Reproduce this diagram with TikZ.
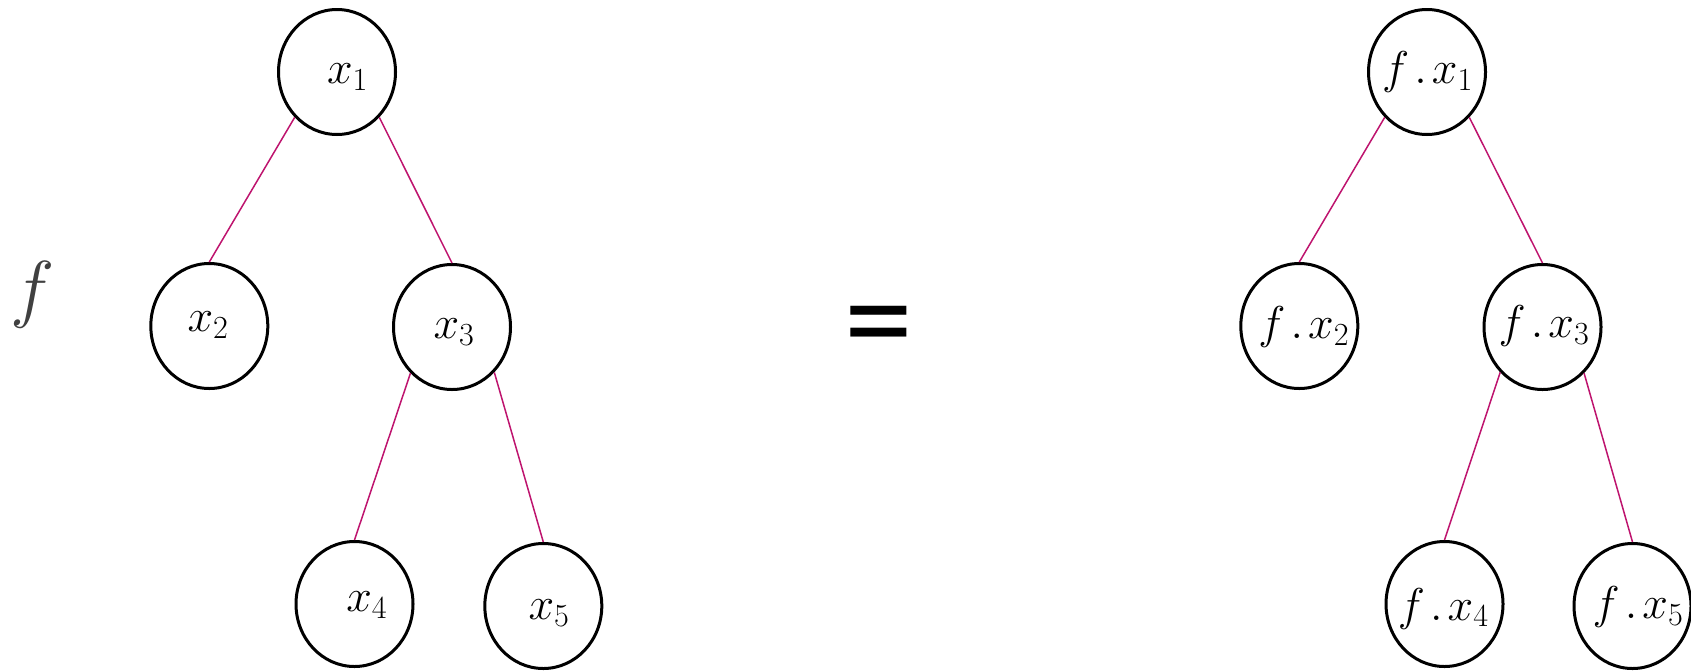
\RequirePackage{fix-cm}
\documentclass[tikz,border=0pt]{standalone}
\usepackage{fontspec}
\newfontfamily\eqfont{Carlito}
\usetikzlibrary{shapes.geometric}
\definecolor{edgec}{RGB}{190,20,110}
\definecolor{fgray}{RGB}{64,64,64}
\begin{document}
\begin{tikzpicture}[x=1pt,y=-1pt,
  bub/.style={ellipse,draw,line width=3pt,minimum width=117pt,minimum height=125pt,inner sep=0pt},
  lbl/.style={inner sep=0pt,anchor=base,font=\fontsize{46}{55}\selectfont},
  edgeln/.style={draw=edgec,line width=1.5pt}]
\useasboundingbox (0,0) rectangle (1691,670);
% left tree
\node[bub] (a1) at (337,72) {};
\node[bub] (a2) at (209.3,326) {};
\node[bub] (a3) at (452,327) {};
\node[bub] (a4) at (354.5,604) {};
\node[bub] (a5) at (543.3,606) {};
\node[lbl] (ta1) at (347.5,83.3) {$x_1$};
\node[lbl] (ta2) at (208,331.7) {$x_2$};
\node[lbl] (ta3) at (454,338.3) {$x_3$};
\node[lbl] (ta4) at (366.7,611.7) {$x_4$};
\node[lbl] (ta5) at (549,619.3) {$x_5$};
\draw[edgeln] (a1.227) -- (a2.north);
\draw[edgeln] (a1.313) -- (a3.north);
\draw[edgeln] (a3.228) -- (a4.north);
\draw[edgeln] (a3.313) -- (a5.north);
% right tree
\node[bub] (b1) at (1427,72) {};
\node[bub] (b2) at (1299.3,326) {};
\node[bub] (b3) at (1542.5,327) {};
\node[bub] (b4) at (1444.5,604) {};
\node[bub] (b5) at (1632.5,606) {};
\node[lbl] (tb1) at (1427.5,83.3) {$f\mkern2mu.\mkern2mu x_1$};
\node[lbl] (tb2) at (1303.8,338.3) {$f\mkern2mu.\mkern2mu x_2$};
\node[lbl] (tb3) at (1544,337.6) {$f\mkern2mu.\mkern2mu x_3$};
\node[lbl] (tb4) at (1443.3,620) {$f\mkern2mu.\mkern2mu x_4$};
\node[lbl] (tb5) at (1638,618.3) {$f\mkern2mu.\mkern2mu x_5$};
\draw[edgeln] (b1.227) -- (b2.north);
\draw[edgeln] (b1.313) -- (b3.north);
\draw[edgeln] (b3.227) -- (b4.north);
\draw[edgeln] (b3.312) -- (b5.north);
% f and =
\node[inner sep=0pt,text=fgray,font=\fontsize{75}{90}\selectfont] (fbig) at (33,295) {$f$};
\node[inner sep=0pt,font=\eqfont\fontsize{138}{160}\selectfont] (eq) at (879,336) {=};
\end{tikzpicture}
\end{document}
